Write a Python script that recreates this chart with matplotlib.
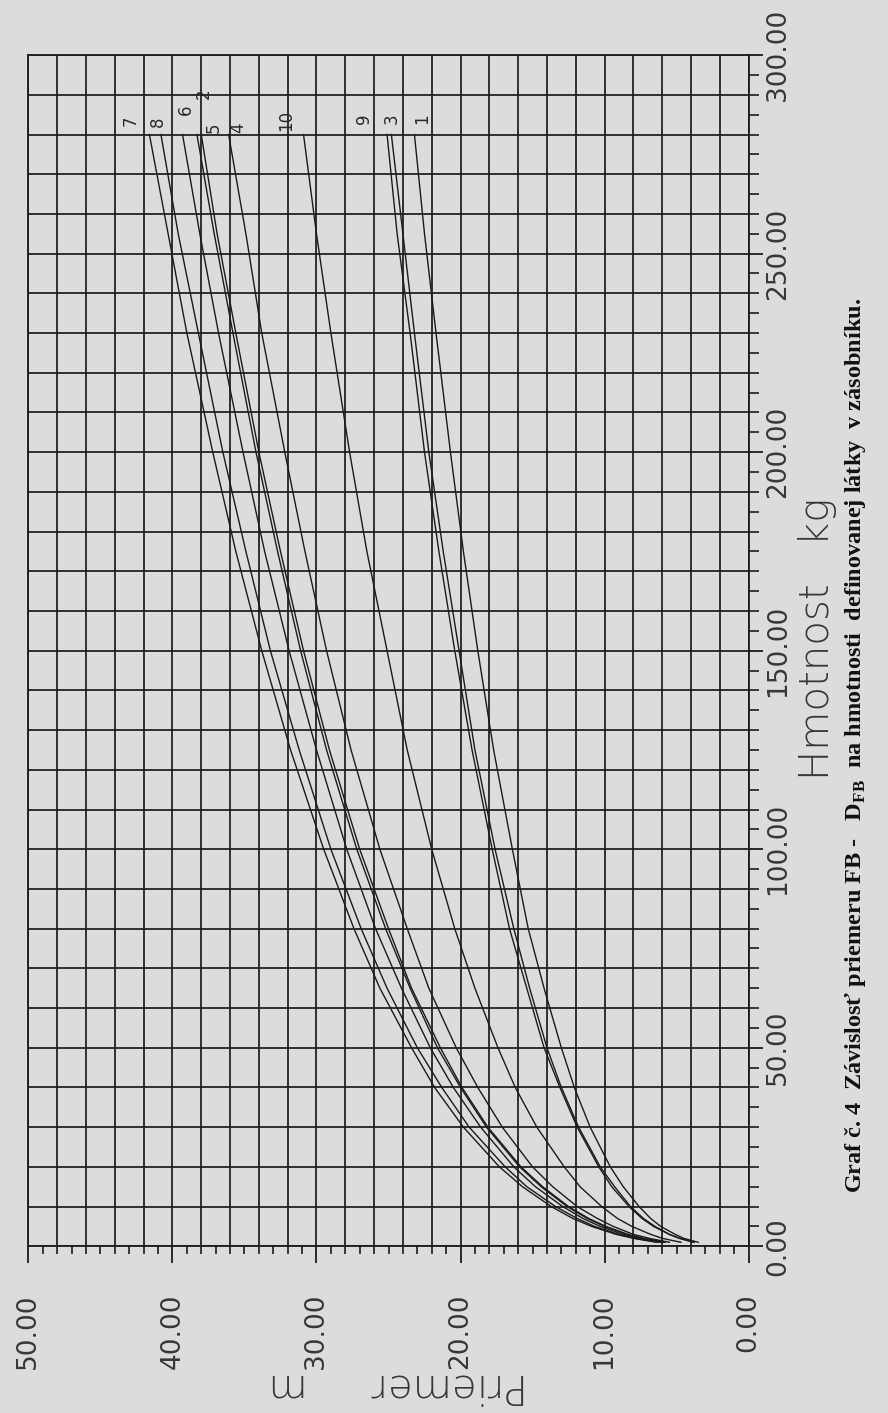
import matplotlib.pyplot as plt
import numpy as np
from matplotlib.ticker import MultipleLocator

plt.rcParams["mathtext.fontset"] = "custom"
plt.rcParams["mathtext.bf"] = "Liberation Serif:bold"
plt.rcParams["mathtext.rm"] = "Liberation Serif:bold"

# hmotnost [kg] at which the curves were read
hmotnost = [1, 2, 3, 5, 7, 10, 15, 20, 30, 40, 50, 65, 80, 100, 125, 150, 175, 200, 230, 255, 280]

# priemer FB [m], one list per curve (curve number = label on chart)
d_fb_1 = [3.5, 4.5, 5.1, 6.1, 6.8, 7.6, 8.7, 9.6, 11.0, 12.1, 13.0, 14.2, 15.3, 16.4, 17.7, 18.8, 19.8, 20.7, 21.7, 22.5, 23.2]
d_fb_2 = [5.8, 7.3, 8.4, 9.9, 11.1, 12.5, 14.3, 15.8, 18.1, 19.9, 21.4, 23.4, 25.0, 27.0, 29.1, 30.9, 32.5, 34.0, 35.6, 36.9, 38.0]
d_fb_3 = [3.8, 4.8, 5.5, 6.5, 7.3, 8.2, 9.3, 10.3, 11.8, 13.0, 14.0, 15.2, 16.3, 17.6, 19.0, 20.1, 21.2, 22.2, 23.2, 24.0, 24.8]
d_fb_4 = [5.5, 6.9, 8.0, 9.4, 10.5, 11.9, 13.6, 15.0, 17.1, 18.8, 20.3, 22.2, 23.7, 25.6, 27.6, 29.3, 30.8, 32.2, 33.8, 34.9, 36.1]
d_fb_5 = [5.9, 7.4, 8.4, 10.0, 11.2, 12.6, 14.4, 15.9, 18.2, 20.0, 21.6, 23.5, 25.2, 27.2, 29.3, 31.1, 32.7, 34.2, 35.8, 37.1, 38.3]
d_fb_6 = [6.0, 7.6, 8.7, 10.3, 11.5, 12.9, 14.8, 16.3, 18.6, 20.5, 22.1, 24.1, 25.9, 27.9, 30.0, 31.9, 33.6, 35.1, 36.8, 38.1, 39.3]
d_fb_7 = [6.4, 8.0, 9.2, 10.9, 12.2, 13.7, 15.7, 17.3, 19.8, 21.8, 23.4, 25.6, 27.4, 29.5, 31.8, 33.8, 35.6, 37.2, 39.0, 40.3, 41.6]
d_fb_8 = [6.2, 7.9, 9.0, 10.7, 11.9, 13.4, 15.4, 16.9, 19.4, 21.3, 23.0, 25.1, 26.9, 29.0, 31.2, 33.2, 34.9, 36.5, 38.2, 39.6, 40.8]
d_fb_9 = [3.8, 4.8, 5.5, 6.6, 7.4, 8.3, 9.5, 10.4, 11.9, 13.1, 14.2, 15.4, 16.6, 17.8, 19.2, 20.4, 21.5, 22.5, 23.5, 24.4, 25.1]
d_fb_10 = [4.7, 6.0, 6.8, 8.1, 9.1, 10.2, 11.7, 12.8, 14.7, 16.2, 17.4, 19.0, 20.4, 22.0, 23.7, 25.1, 26.5, 27.7, 29.0, 30.0, 30.9]

curves = [d_fb_1, d_fb_2, d_fb_3, d_fb_4, d_fb_5, d_fb_6, d_fb_7, d_fb_8, d_fb_9, d_fb_10]

# curve labels, written just above the curve ends
label_ids = ["7", "8", "6", "2", "5", "4", "10", "9", "3", "1"]
label_priemer = [42.9, 41.0, 39.05, 37.85, 37.15, 35.4, 32.1, 26.7, 24.8, 22.65]
label_hmotnost = [283.5, 283.3, 286.3, 290.3, 281.6, 281.6, 283.5, 284.0, 284.0, 284.0]

paper = "#dcdddb"
ink = "#1b1b1b"
txt = "#383838"

fig = plt.figure(figsize=(8.88, 14.13), dpi=100, facecolor=paper)
# chart is drawn turned on its side: priemer runs right->left, hmotnost bottom->top
ax = fig.add_axes([0.032, 0.118, 0.811, 0.843], facecolor=paper)

for d in curves:
    ax.plot(d, hmotnost, c=ink, lw=1.0, zorder=3)

for lab, px, hy in zip(label_ids, label_priemer, label_hmotnost):
    ax.text(px, hy, lab, rotation=90, ha="center", va="center", fontsize=12,
            color="#2a2a2a", zorder=4)

ax.set_xlim(50, 0)
ax.set_ylim(0, 300)

ax.xaxis.set_major_locator(MultipleLocator(10))
ax.xaxis.set_minor_locator(MultipleLocator(1))
ax.yaxis.set_major_locator(MultipleLocator(50))
ax.yaxis.set_minor_locator(MultipleLocator(5))

# grid every 2 m and every 10 kg
for gx in np.arange(0, 50.1, 2):
    ax.axvline(gx, c=ink, lw=1.25, zorder=1)
for gy in np.arange(0, 300.1, 10):
    ax.axhline(gy, c=ink, lw=1.25, zorder=1)

ax.yaxis.tick_right()
ax.tick_params(axis="x", which="major", length=12, width=1.3, color=ink, pad=22,
               labelrotation=90, labelsize=19, labelcolor=txt)
ax.tick_params(axis="x", which="minor", length=6, width=1.2, color=ink)
ax.tick_params(axis="y", which="major", length=10, width=1.3, color=ink, pad=2,
               labelrotation=90, labelsize=19, labelcolor=txt)
ax.tick_params(axis="y", which="minor", length=7, width=1.2, color=ink)
ax.xaxis.set_major_formatter(lambda v, pos: f"{v:.2f}")
ax.yaxis.set_major_formatter(lambda v, pos: f"{v:.2f}")
for lbl in ax.get_yticklabels():
    lbl.set_va("center")

for s in ax.spines.values():
    s.set_color(ink)
    s.set_linewidth(1.3)

# axis titles (the priemer title ends up upside down after turning the page)
ax.text(0.513, -0.117, "Priemer     m", transform=ax.transAxes, rotation=180,
        ha="center", va="center", fontsize=29, color=txt, fontweight="light")
ax.text(1.0957, 0.51, "Hmotnost   kg", transform=ax.transAxes, rotation=90,
        ha="center", va="center", fontsize=29, color=txt, fontweight="light")

caption = ("Graf č. 4  Závislosť priemeru FB -   $\\mathbf{D}_{\\mathbf{FB}}$  "
           "na hmotnosti  definovanej látky  v zásobníku.")
fig.text(0.963, 0.4727, caption, rotation=90, ha="center", va="center",
         fontsize=17.5, family="Liberation Serif", fontweight="bold", color="#111111")

fig.savefig("out.png", dpi=100, facecolor=paper)
